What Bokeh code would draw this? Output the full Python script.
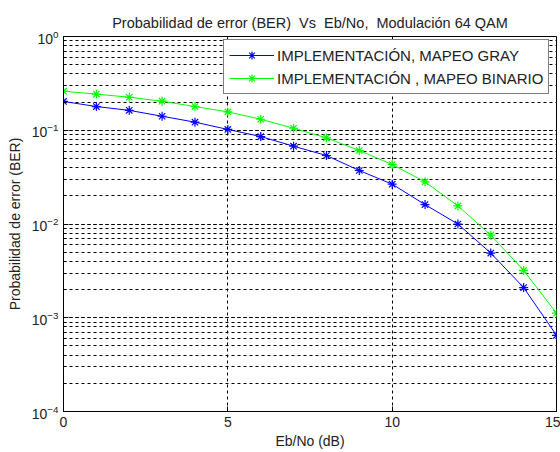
from bokeh.plotting import figure
from bokeh.models import Legend, LegendItem, FixedTicker, LogTicker
from bokeh.embed import file_html
from bokeh.resources import INLINE

# Eb/No in dB
ebno = [0, 1, 2, 3, 4, 5, 6, 7, 8, 9, 10, 11, 12, 13, 14, 15]

# Bit error rate, Gray mapping
ber_gray = [0.203, 0.179, 0.163, 0.141, 0.122, 0.102, 0.0857, 0.0676, 0.0538,
            0.0372, 0.0266, 0.0161, 0.0100, 0.0049, 0.0021, 0.00065]

# Bit error rate, natural binary mapping
ber_bin = [0.261, 0.243, 0.225, 0.204, 0.179, 0.157, 0.131, 0.105, 0.083,
           0.0608, 0.0431, 0.0282, 0.0156, 0.0076, 0.0032, 0.00112]

x_ticks = [0, 5, 10, 15]
labels = ["IMPLEMENTACIÓN, MAPEO GRAY", "IMPLEMENTACIÓN , MAPEO BINARIO"]
NB = "\u00a0"
title_text = f"Probabilidad de error (BER) {NB}Vs {NB}Eb/No, {NB}Modulación 64 QAM"
FONT = "Liberation Sans"
TXT = "#222222"

p = figure(width=560, height=452, y_axis_type="log",
           x_range=(0, 15), y_range=(1e-4, 1),
           output_backend="svg", toolbar_location=None,
           title=title_text,
           x_axis_label="Eb/No (dB)", y_axis_label="Probabilidad de error (BER)",
           min_border_left=63, min_border_right=4, min_border_top=36,
           min_border_bottom=41)

p.background_fill_color = "white"
p.border_fill_color = "white"
p.outline_line_color = "black"
p.outline_line_width = 1

p.title.align = "center"
p.title.text_font = FONT
p.title.text_font_size = "14.5px"
p.title.text_font_style = "normal"
p.title.text_color = TXT
p.title.standoff = 12

p.xaxis.ticker = FixedTicker(ticks=x_ticks)
p.yaxis.ticker = LogTicker(num_minor_ticks=10)
for ax in (p.xaxis[0], p.yaxis[0]):
    ax.axis_line_color = "black"
    ax.major_tick_in = 5
    ax.major_tick_out = 0
    ax.minor_tick_in = 3
    ax.minor_tick_out = 0
    ax.major_label_text_font = FONT
    ax.major_label_text_font_size = "14px"
    ax.major_label_text_color = TXT
    ax.axis_label_text_font = FONT
    ax.axis_label_text_font_size = "14px"
    ax.axis_label_text_font_style = "normal"
    ax.axis_label_text_color = TXT
p.xaxis.minor_tick_line_color = None
p.xaxis.axis_label_standoff = 3
p.yaxis.axis_label_standoff = 6

p.xgrid.grid_line_color = "black"
p.xgrid.grid_line_dash = "3 3"
p.xgrid.grid_line_width = 1
p.ygrid.grid_line_color = "black"
p.ygrid.grid_line_dash = "3 3"
p.ygrid.minor_grid_line_color = "black"
p.ygrid.minor_grid_line_dash = "3 3"

r1 = p.line(ebno, ber_gray, line_color="#0000ff", line_width=1)
m1 = p.scatter(ebno, ber_gray, marker="asterisk", size=9, line_color="#0000ff", line_width=1.2)
r2 = p.line(ebno, ber_bin, line_color="#00ff00", line_width=1)
m2 = p.scatter(ebno, ber_bin, marker="asterisk", size=9, line_color="#00ff00", line_width=1.2)

legend = Legend(items=[LegendItem(label=labels[0], renderers=[r1, m1]),
                       LegendItem(label=labels[1], renderers=[r2, m2])],
                location=(160, 317))
legend.border_line_color = "black"
legend.border_line_width = 1
legend.background_fill_color = "white"
legend.background_fill_alpha = 1
legend.label_text_font = FONT
legend.label_text_font_size = "15px"
legend.label_text_color = TXT
legend.glyph_width = 45
legend.label_standoff = 3
legend.spacing = 3
legend.padding = 5
legend.margin = 0
legend.label_height = 18
p.add_layout(legend)

open("out.html", "w").write(file_html(p, INLINE))
